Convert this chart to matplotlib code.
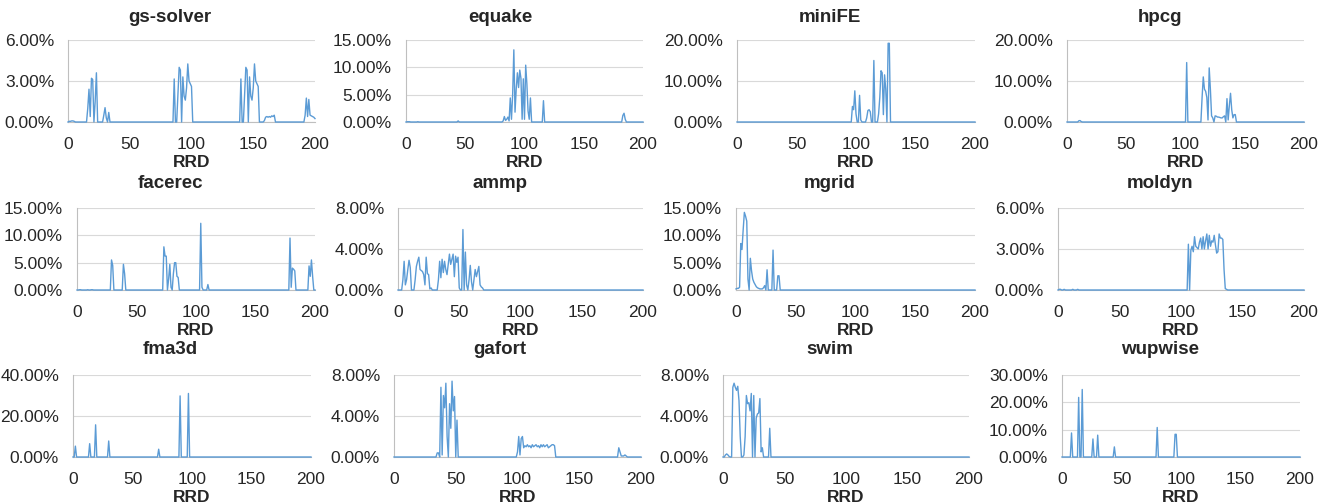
import numpy as np
import matplotlib
matplotlib.use('Agg')
import matplotlib.pyplot as plt
from matplotlib.ticker import PercentFormatter, MultipleLocator

plt.rcParams['font.family'] = ['Liberation Sans', 'DejaVu Sans']

# non-zero points of each curve: (RRD, percent)
gs_solver = [(1, 0.05), (2, 0.05), (3, 0.08), (4, 0.08), (5, 0.05),
             (16, 1.0), (17, 2.4), (18, 0.4), (19, 3.2), (20, 3.1), (22, 1.5), (23, 3.6),
             (29, 0.5), (30, 1.05), (31, 0.3), (33, 0.7),
             (86, 3.15), (89, 2.0), (90, 4.0), (91, 3.8), (93, 3.3), (94, 1.9), (95, 1.6),
             (96, 2.5), (97, 4.25), (98, 3.0), (99, 2.8), (100, 2.6),
             (140, 3.15), (143, 2.0), (144, 4.0), (145, 3.8), (147, 3.3), (148, 1.9), (149, 1.6),
             (150, 2.5), (151, 4.25), (152, 3.0), (153, 2.8), (154, 2.6),
             (159, 0.1), (160, 0.35), (161, 0.4), (162, 0.35), (163, 0.4), (164, 0.35),
             (165, 0.45), (166, 0.4), (167, 0.5),
             (192, 0.5), (193, 1.75), (194, 0.4), (195, 1.65), (196, 0.5), (197, 0.45),
             (198, 0.4), (199, 0.35), (200, 0.25)]

equake = [(1, 0.05), (2, 0.05), (3, 0.05), (10, 0.05), (44, 0.2),
          (82, 0.2), (83, 1.0), (84, 0.3), (85, 0.5), (86, 0.9), (87, 0.2), (88, 4.4), (89, 0.5),
          (90, 5.0), (91, 13.2), (92, 1.8), (93, 6.0), (94, 9.0), (95, 6.3), (96, 9.5), (97, 8.0),
          (98, 0.5), (99, 7.9), (100, 0.5), (101, 10.4), (102, 7.0), (103, 2.0), (104, 0.5),
          (105, 4.4), (116, 3.9), (183, 1.2), (184, 1.6), (185, 0.5)]

miniFE = [(97, 3.8), (98, 3.0), (99, 7.6), (100, 2.0), (103, 6.5), (104, 0.5),
          (109, 1.0), (110, 2.8), (111, 3.0), (112, 2.5), (115, 15.0),
          (119, 2.0), (120, 6.0), (121, 12.5), (122, 12.0), (123, 1.8), (124, 11.5), (125, 8.0),
          (127, 19.2), (128, 19.2)]

hpcg = [(10, 0.3), (11, 0.35), (12, 0.1), (101, 14.5),
        (114, 6.0), (115, 11.0), (116, 8.0), (117, 7.5), (118, 6.0), (119, 0.5), (120, 13.2),
        (121, 8.0), (122, 1.5), (123, 1.0), (125, 1.5), (126, 1.4), (127, 1.2), (128, 1.2),
        (129, 1.1), (130, 1.0), (131, 1.0), (132, 1.3), (133, 1.5), (135, 5.7), (136, 0.5),
        (137, 4.0), (138, 7.0), (139, 3.0), (140, 1.0), (141, 1.8), (142, 1.8)]

facerec = [(2, 0.05), (3, 0.05), (9, 0.05), (12, 0.05), (13, 0.05),
           (29, 5.5), (30, 4.5), (39, 4.7), (40, 3.0),
           (73, 7.9), (74, 6.2), (75, 6.2), (77, 2.0), (78, 4.7), (79, 0.5),
           (81, 3.0), (82, 5.0), (83, 5.0), (84, 2.5), (85, 2.3),
           (104, 12.2), (105, 0.5), (110, 1.0),
           (179, 9.5), (180, 0.5), (181, 4.0), (182, 3.8), (183, 3.5),
           (195, 4.4), (196, 2.5), (197, 5.5), (198, 2.5)]

ammp = [(4, 1.0), (5, 2.8), (6, 0.5), (7, 1.0), (8, 2.0), (9, 2.9), (10, 2.2),
        (14, 1.0), (15, 2.3), (16, 2.8), (17, 3.2), (18, 2.0), (19, 1.9), (20, 1.8), (21, 1.5),
        (22, 0.5), (23, 3.2), (24, 1.6), (25, 1.5), (26, 0.1), (27, 0.2),
        (33, 1.0), (34, 2.8), (35, 1.2), (36, 3.0), (37, 1.7), (38, 2.8), (39, 2.0), (40, 1.5),
        (41, 2.5), (42, 3.5), (43, 2.5), (44, 3.0), (45, 3.5), (46, 1.3), (47, 3.3), (48, 2.7),
        (49, 3.2), (50, 0.2), (53, 5.9), (55, 3.7), (56, 0.5), (58, 1.0), (59, 2.4), (60, 0.8),
        (62, 1.0), (63, 2.0), (64, 1.3), (65, 1.8), (66, 2.3), (67, 0.5), (68, 0.3), (69, 0.2)]

mgrid = [(0, 0.2), (1, 0.3), (2, 0.3), (3, 0.5), (4, 8.5), (5, 7.4), (6, 11.0), (7, 14.2),
         (8, 13.5), (9, 12.6), (10, 2.0), (12, 5.8), (13, 3.5), (14, 2.0), (15, 1.4), (16, 1.0),
         (17, 0.6), (18, 0.4), (19, 0.3), (20, 0.2), (21, 0.2), (22, 0.2), (23, 0.4), (24, 0.8),
         (26, 3.7), (31, 7.3), (35, 2.6), (36, 2.6)]

moldyn = [(1, 0.05), (2, 0.05), (5, 0.05), (12, 0.05), (16, 0.05),
          (106, 3.35), (108, 2.9), (109, 3.2), (110, 2.8), (111, 3.9), (112, 3.2), (113, 3.1),
          (114, 3.0), (115, 3.5), (116, 3.8), (117, 3.0), (118, 3.9), (119, 3.0), (120, 3.6),
          (121, 4.1), (122, 3.0), (123, 4.0), (124, 3.2), (125, 3.6), (126, 3.5), (127, 4.0),
          (128, 3.3), (129, 2.7), (130, 2.8), (131, 4.1), (132, 3.8), (133, 3.8), (134, 3.7),
          (135, 1.5), (136, 0.1), (137, 0.05)]

fma3d = [(2, 5.3), (14, 6.5), (19, 15.7), (30, 7.8), (72, 3.8), (90, 29.8), (97, 31.0)]

gafort = [(35, 0.4), (36, 0.4), (38, 6.8), (39, 0.2), (40, 6.0), (41, 4.8), (42, 7.2), (43, 2.0),
          (45, 5.2), (46, 2.8), (47, 7.4), (48, 4.5), (49, 5.9), (51, 3.6),
          (100, 0.5), (101, 2.0), (102, 0.2), (103, 1.8), (104, 2.0), (105, 0.9), (106, 1.1),
          (107, 1.0), (108, 1.2), (109, 1.0), (110, 1.1), (111, 0.9), (112, 1.2), (113, 1.0),
          (114, 1.1), (115, 1.2), (116, 1.0), (117, 1.1), (118, 0.9), (119, 1.2), (120, 1.0),
          (121, 1.2), (122, 1.0), (123, 1.1), (124, 1.2), (125, 0.9), (126, 1.0), (127, 1.1),
          (128, 1.2), (129, 1.2), (130, 1.1),
          (182, 0.9), (183, 0.5), (184, 0.1), (185, 0.1), (186, 0.1), (187, 0.2), (188, 0.1)]

swim = [(2, 0.2), (3, 0.3), (4, 0.2), (5, 0.05),
        (8, 6.8), (9, 7.2), (10, 6.8), (11, 6.5), (12, 6.9), (13, 5.5), (14, 2.0),
        (17, 0.2), (18, 2.0), (19, 6.0), (20, 5.2), (21, 5.3), (22, 4.5), (23, 6.2), (25, 6.0),
        (27, 3.8), (28, 4.2), (29, 4.3), (30, 5.7), (31, 0.5), (32, 0.9), (38, 2.8)]

wupwise = [(8, 8.8), (14, 21.8), (17, 24.7), (26, 6.6), (30, 8.0), (44, 3.7), (80, 10.8),
           (95, 8.3), (96, 8.3)]

names = ['gs-solver', 'equake', 'miniFE', 'hpcg',
         'facerec', 'ammp', 'mgrid', 'moldyn',
         'fma3d', 'gafort', 'swim', 'wupwise']
series = [gs_solver, equake, miniFE, hpcg,
          facerec, ammp, mgrid, moldyn,
          fma3d, gafort, swim, wupwise]
y_max = [6, 15, 20, 20, 15, 8, 15, 6, 40, 8, 8, 30]
y_step = [3, 5, 10, 10, 5, 4, 5, 3, 20, 4, 4, 10]

rrd = np.arange(0, 201)

W, H = 1326, 503
fig = plt.figure(figsize=(W / 100, H / 100), dpi=100)

# plot-area boxes in pixels: left, right, top, bottom
boxes = [(68, 315, 40, 122), (406, 643, 40, 122), (737, 975, 40, 122), (1067, 1304, 40, 122),
         (77, 315, 208, 290), (398, 643, 208, 290), (736, 975, 208, 290), (1058, 1304, 208, 290),
         (73, 311, 375, 457), (394, 641, 375, 457), (723, 969, 375, 457), (1062, 1300, 375, 457)]
title_y = [17, 183, 350]

for i, (name, pts) in enumerate(zip(names, series)):
    l, r, t, b = boxes[i]
    ax = fig.add_axes([l / W, 1 - b / H, (r - l) / W, (b - t) / H])
    y = np.zeros(len(rrd))
    for x, v in pts:
        y[x] = v
    ax.plot(rrd, y, color='#5B9BD5', lw=1.0, clip_on=False, zorder=3)
    ax.set_xlim(0, 200)
    ax.set_ylim(0, y_max[i])
    ax.xaxis.set_major_locator(MultipleLocator(50))
    ax.yaxis.set_major_locator(MultipleLocator(y_step[i]))
    ax.yaxis.set_major_formatter(PercentFormatter(xmax=100, decimals=2))
    ax.grid(axis='y', color='#D9D9D9', lw=0.8)
    ax.set_axisbelow(True)
    for s in ['top', 'right']:
        ax.spines[s].set_visible(False)
    ax.spines['left'].set_color('#BFBFBF')
    ax.spines['bottom'].set_color('#BFBFBF')
    ax.tick_params(length=0, labelsize=12.5, colors='#262626')
    ax.tick_params(axis='x', pad=11)
    ax.tick_params(axis='y', pad=10)
    ax.set_xlabel('RRD', fontsize=12.5, fontweight='bold', color='#262626', labelpad=2)
    col = i % 4
    row = i // 4
    fig.text((170 + 330 * col) / W, 1 - title_y[row] / H, name, ha='center', va='center',
             fontsize=13.5, fontweight='bold', color='#262626')

fig.savefig('out.png', dpi=100)
